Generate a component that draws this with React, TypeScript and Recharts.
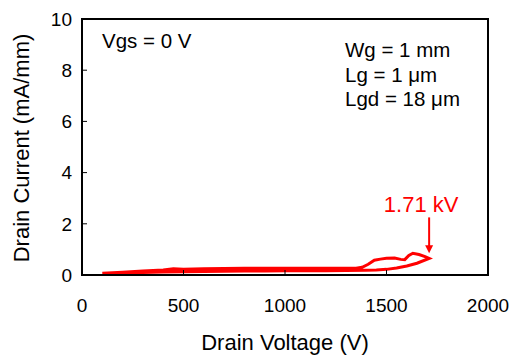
import { LineChart, Line, XAxis, YAxis, ReferenceArea, ReferenceLine, Customized } from "recharts";

// forward sweep (lower branch), then back (upper branch)
const voltage = [
  100, 200, 300, 400, 500, 600, 700, 800, 900, 1000, 1100, 1200, 1300, 1400, 1450, 1500, 1550, 1600, 1650, 1710,
  1690, 1660, 1630, 1610, 1590, 1570, 1540, 1500, 1470, 1440, 1410, 1380, 1350, 1300, 1200, 1000, 800, 600, 500,
  450, 400, 300, 200, 100,
];
const current = [
  0.05, 0.08, 0.1, 0.12, 0.13, 0.14, 0.15, 0.16, 0.16, 0.17, 0.17, 0.17, 0.18, 0.19, 0.2, 0.22, 0.27, 0.35, 0.46, 0.65,
  0.72, 0.8, 0.85, 0.76, 0.6, 0.61, 0.66, 0.65, 0.62, 0.58, 0.42, 0.3, 0.26, 0.26, 0.26, 0.26, 0.26, 0.24, 0.22,
  0.24, 0.2, 0.16, 0.11, 0.07,
];

const xTicks = [0, 500, 1000, 1500, 2000];
const yTicks = [0, 2, 4, 6, 8, 10];

const breakdownV = 1710;
const arrowTop = 2.25;
const arrowTip = 0.85;
const breakdownLabel = "1.71 kV";

const notes = ["Wg = 1 mm", "Lg = 1 \u03bcm", "Lgd = 18 \u03bcm"];

const font = "'Liberation Sans', Arial, sans-serif";

const data = voltage.map((v, k) => ({ v, i: current[k] }));

function Arrow(props: any) {
  const { x1, y1, x2, y2 } = props;
  return (
    <g>
      <text x={x1 - 8} y={y1 - 5} textAnchor="middle" fill="#ff0000" fontSize={22} fontFamily={font}>
        {breakdownLabel}
      </text>
      <line x1={x1} y1={y1} x2={x2} y2={y2 - 6} stroke="#ff0000" strokeWidth={2} />
      <polygon points={`${x2 - 4},${y2 - 8} ${x2 + 4},${y2 - 8} ${x2},${y2}`} fill="#ff0000" />
    </g>
  );
}

function Texts() {
  return (
    <g fontFamily={font} fill="#000">
      <text x={102} y={48} fontSize={20.5}>Vgs = 0 V</text>
      {notes.map((t, k) => (
        <text key={t} x={345} y={57 + k * 24.5} fontSize={20.5}>
          {t}
        </text>
      ))}
      <text x={285} y={350} fontSize={22} textAnchor="middle">Drain Voltage (V)</text>
      <text x={29} y={148} fontSize={22} textAnchor="middle" transform="rotate(-90, 29, 148)">
        Drain Current (mA/mm)
      </text>
    </g>
  );
}

export default function App() {
  return (
    <div style={{ position: "absolute", left: 0, top: 0, background: "#fff" }}>
      <LineChart width={511} height={355} data={data} margin={{ top: 19, right: 23, bottom: 50, left: 22 }}>
        <XAxis
          dataKey="v"
          type="number"
          domain={[0, 2000]}
          ticks={xTicks}
          height={30}
          tickSize={-5}
          tickMargin={29}
          axisLine={{ stroke: "#000", strokeWidth: 2 }}
          tickLine={{ stroke: "#000" }}
          tick={{ fill: "#000", fontSize: 19, fontFamily: font }}
        />
        <YAxis
          type="number"
          domain={[0, 10]}
          ticks={yTicks}
          width={60}
          tickSize={-5}
          tickMargin={15}
          axisLine={{ stroke: "#000", strokeWidth: 2 }}
          tickLine={{ stroke: "#000" }}
          tick={{ fill: "#000", fontSize: 19, fontFamily: font }}
        />
        <ReferenceArea x1={0} x2={2000} y1={0} y2={10} fill="none" stroke="#000" strokeWidth={2} />
        <Line
          dataKey="i"
          type="linear"
          stroke="#ff0000"
          strokeWidth={3}
          dot={false}
          isAnimationActive={false}
        />
        <ReferenceLine
          segment={[
            { x: breakdownV, y: arrowTop },
            { x: breakdownV, y: arrowTip },
          ]}
          shape={Arrow}
        />
        <Customized component={Texts} />
      </LineChart>
    </div>
  );
}
